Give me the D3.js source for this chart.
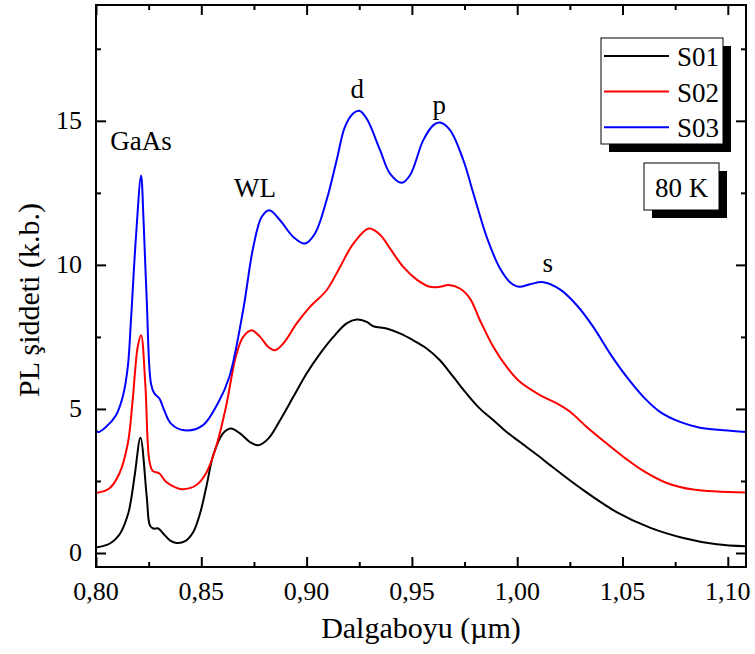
<!DOCTYPE html>
<html><head><meta charset="utf-8">
<script src="https://cdn.jsdelivr.net/npm/d3@7/dist/d3.min.js"></script>
<style>body{margin:0;background:#fff}</style>
</head><body>
<svg id="chart" width="755" height="654"></svg>
<script>
// wavelength (µm) / intensity (a.u.) pairs
const s01X = [0.800,0.8066,0.8114,0.8153,0.8166,0.8185,0.8211,0.8241,0.8256,0.8272,0.8296,0.8320,0.8351,0.8383,0.8423,0.8462,0.8494,0.8524,0.8557,0.8603,0.8640,0.8684,0.8731,0.8771,0.8818,0.8874,0.8937,0.9000,0.9064,0.9127,0.9190,0.9238,0.9285,0.9317,0.9380,0.9443,0.9507,0.9570,0.9633,0.9697,0.9760,0.9823,0.9887,0.9950,1.0013,1.0108,1.0156,1.0314,1.0472,1.0630,1.0789,1.0947,1.1086];
const s01Y = [0.19,0.33,0.67,1.37,1.83,2.76,4.0,1.95,0.96,0.85,0.85,0.67,0.44,0.35,0.41,0.73,1.37,2.3,3.4,4.15,4.32,4.15,3.85,3.74,3.97,4.61,5.42,6.23,6.92,7.5,7.97,8.1,8.02,7.87,7.79,7.62,7.38,7.1,6.69,6.11,5.53,5.01,4.61,4.2,3.85,3.33,3.05,2.18,1.42,0.88,0.52,0.30,0.23];
const s02X = [0.800,0.8063,0.8111,0.8151,0.8174,0.8198,0.8214,0.8234,0.8253,0.8269,0.8301,0.8332,0.8380,0.8412,0.8475,0.8522,0.8570,0.8617,0.8665,0.8699,0.8739,0.8779,0.8818,0.8850,0.8889,0.8953,0.9016,0.9095,0.9159,0.9222,0.9296,0.9349,0.9396,0.9459,0.9523,0.9586,0.9633,0.9673,0.9728,0.9776,0.9823,0.9887,0.9950,1.0013,1.0108,1.0188,1.0251,1.0330,1.0425,1.0520,1.0599,1.0710,1.0836,1.1086];
const s02Y = [2.08,2.24,2.76,3.8,5.3,7.15,7.56,5.88,3.22,2.85,2.76,2.47,2.27,2.21,2.35,2.76,3.68,5.07,6.85,7.5,7.73,7.5,7.15,7.04,7.27,7.97,8.54,9.12,9.93,10.74,11.26,11.05,10.57,9.93,9.49,9.24,9.24,9.3,9.18,8.83,8.08,7.15,6.46,5.94,5.48,5.19,4.9,4.375,3.8,3.25,2.85,2.43,2.2,2.1];
const s03X = [0.800,0.8007,0.8047,0.8095,0.8127,0.8151,0.8166,0.8190,0.8214,0.8226,0.8241,0.8261,0.8277,0.8301,0.8324,0.8356,0.8419,0.8507,0.8579,0.8633,0.8698,0.8747,0.8787,0.8823,0.8874,0.8937,0.8992,0.9040,0.9095,0.9143,0.9182,0.9222,0.9250,0.9285,0.9349,0.9396,0.9452,0.9491,0.9554,0.9602,0.9633,0.9681,0.9744,0.9792,0.9855,0.9918,0.9966,1.0009,1.0061,1.0124,1.0203,1.0283,1.0361,1.0441,1.0520,1.0599,1.0678,1.0773,1.0868,1.0979,1.1086];
const s03Y = [5.8,4.2,4.375,4.78,5.42,6.46,8.08,11.0,13.1,11.5,8.77,5.88,5.54,5.36,4.95,4.49,4.26,4.43,5.2,6.11,8.4,10.63,11.67,11.9,11.55,10.97,10.74,11.09,12.25,13.64,14.79,15.26,15.35,15.08,13.98,13.17,12.85,13.11,14.33,14.85,14.94,14.68,13.64,12.48,10.97,9.88,9.4,9.24,9.33,9.4,9.15,8.6,7.85,6.92,6.11,5.42,4.9,4.55,4.35,4.26,4.2];
const seriesNames = ["S01","S02","S03"];
const seriesColors = ["#000000","#ff0000","#0000ff"];
const xTicks = [0.80,0.85,0.90,0.95,1.00,1.05,1.10];
const xMinor = [0.825,0.875,0.925,0.975,1.025,1.075];
const yTicks = [0,5,10,15];
const yMinor = [2.5,7.5,12.5,17.5];
const peakLabels = ["GaAs","WL","d","p","s"];
const peakX = [0.8214,0.8755,0.9240,0.9630,1.0145];
const peakY = [14.0,12.35,15.8,15.25,9.75];
const tempLabel = "80 K";
const xTitle = "Dalgaboyu (\u00b5m)";
const yTitle = "PL \u015fiddeti (k.b.)";

const FF = '"Liberation Serif"';
const L = 96, R = 746, T = 5, B = 567;
const svg = d3.select("#chart").style("font-family", FF);
const x = d3.scaleLinear().domain([0.80, 0.80 + 650/2106]).range([L, R]);
const y = d3.scaleLinear().domain([-0.486, 19.02]).range([B, T]);
const fmt = d => d3.format(".2f")(d).replace(".", ",");

function txt(parent){ return parent.append("text").style("font-family", FF).style("fill", "#000"); }

svg.append("clipPath").attr("id","clp").append("rect")
  .attr("x",L).attr("y",T).attr("width",R-L).attr("height",B-T);

const data = [[s01X,s01Y],[s02X,s02Y],[s03X,s03Y]].map(([xs,ys]) => xs.map((v,i)=>[v,ys[i]]));
const line = d3.line().x(d=>x(d[0])).y(d=>y(d[1])).curve(d3.curveCatmullRom.alpha(0.5));
svg.append("g").attr("clip-path","url(#clp)").selectAll("path").data(data).join("path")
  .attr("d", line).attr("fill","none").attr("stroke",(d,i)=>seriesColors[i]).attr("stroke-width",2);

// tick marks via axes (labels drawn separately)
function axisStyle(g){ g.select(".domain").remove(); g.selectAll("text").remove(); g.selectAll("line").attr("stroke","#000").attr("stroke-width",2); }
svg.append("g").attr("transform",`translate(0,${B})`).call(d3.axisBottom(x).tickValues(xTicks).tickSize(-10)).call(axisStyle);
svg.append("g").attr("transform",`translate(0,${B})`).call(d3.axisBottom(x).tickValues(xMinor).tickSize(-5)).call(axisStyle);
svg.append("g").attr("transform",`translate(0,${T})`).call(d3.axisTop(x).tickValues(xTicks).tickSize(-10)).call(axisStyle);
svg.append("g").attr("transform",`translate(0,${T})`).call(d3.axisTop(x).tickValues(xMinor).tickSize(-5)).call(axisStyle);
svg.append("g").attr("transform",`translate(${L},0)`).call(d3.axisLeft(y).tickValues(yTicks).tickSize(-10)).call(axisStyle);
svg.append("g").attr("transform",`translate(${L},0)`).call(d3.axisLeft(y).tickValues(yMinor).tickSize(-5)).call(axisStyle);
svg.append("g").attr("transform",`translate(${R},0)`).call(d3.axisRight(y).tickValues(yTicks).tickSize(-10)).call(axisStyle);
svg.append("g").attr("transform",`translate(${R},0)`).call(d3.axisRight(y).tickValues(yMinor).tickSize(-5)).call(axisStyle);
svg.append("rect").attr("x",L).attr("y",T).attr("width",R-L).attr("height",B-T)
  .attr("fill","none").attr("stroke","#000").attr("stroke-width",2);

const labels = svg.append("g");
xTicks.forEach(v => txt(labels).attr("x", x(v)).attr("y", 600).attr("text-anchor","middle").attr("font-size",26).text(fmt(v)));
yTicks.forEach(v => txt(labels).attr("x", 82).attr("y", y(v) + 8.5).attr("text-anchor","end").attr("font-size",26).text(String(v)));

// titles
txt(svg).attr("x",421).attr("y",638).attr("text-anchor","middle").attr("font-size",30).text(xTitle);
txt(svg).attr("transform","translate(39,300) rotate(-90)").attr("text-anchor","middle").attr("font-size",30).text(yTitle);

// peak labels
peakLabels.forEach((d,i) => txt(svg).attr("x",x(peakX[i])).attr("y",y(peakY[i])).attr("text-anchor","middle").attr("font-size",27).text(d));

// legend
const lg = svg.append("g");
lg.append("rect").attr("x",609).attr("y",46).attr("width",122).attr("height",106).attr("fill","#000");
lg.append("rect").attr("x",601).attr("y",38).attr("width",122).attr("height",106).attr("fill","#fff").attr("stroke","#000").attr("stroke-width",1);
seriesNames.forEach((n,i)=>{
  const yy = 56 + i*35.6;
  lg.append("line").attr("x1",604).attr("x2",669).attr("y1",yy).attr("y2",yy).attr("stroke",seriesColors[i]).attr("stroke-width",2);
  txt(lg).attr("x",677).attr("y",yy+10).attr("font-size",27).text(n);
});
svg.append("rect").attr("x",652).attr("y",171).attr("width",75).attr("height",47).attr("fill","#000");
svg.append("rect").attr("x",644).attr("y",163).attr("width",75).attr("height",47).attr("fill","#fff").attr("stroke","#000").attr("stroke-width",1);
txt(svg).attr("x",681.5).attr("y",196.5).attr("text-anchor","middle").attr("font-size",27).text(tempLabel);
</script>
</body></html>
